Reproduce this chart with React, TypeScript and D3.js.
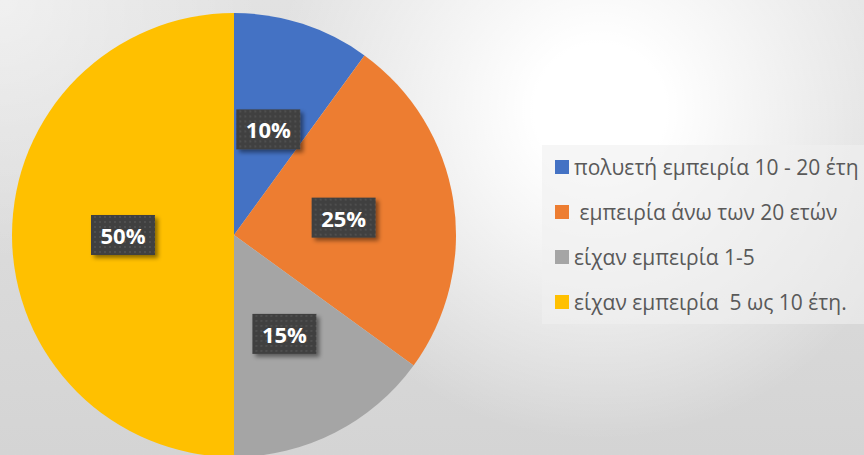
import * as d3 from "d3";

const labels = [
  "πολυετή εμπειρία 10 - 20 έτη",
  " εμπειρία άνω των 20 ετών",
  "είχαν εμπειρία 1-5",
  "είχαν εμπειρία  5 ως 10 έτη.",
];
const values = [10, 25, 15, 50];
const palette = ["#4472C4", "#ED7D31", "#A5A5A5", "#FFC000"];

const W = 864;
const H = 455;

const App = () => {
  const cx = 234;
  const cy = 235;
  const r = 222;

  const color = d3.scaleOrdinal<string, string>().domain(labels).range(palette);
  const total = d3.sum(values);
  const pie = d3
    .pie<number>()
    .sort(null)
    .value((d) => d);
  const arcs = pie(values);
  const arc = d3.arc<d3.PieArcDatum<number>>().innerRadius(0).outerRadius(r);

  // legend rows
  const legendY = d3
    .scalePoint<string>()
    .domain(labels)
    .range([167, 302]);

  const boxW = 64;
  const boxH = 40;

  return (
    <svg
      width={W}
      height={H}
      viewBox={`0 0 ${W} ${H}`}
      style={{ position: "absolute", left: 0, top: 0, display: "block" }}
    >
      <defs>
        <linearGradient id="bgBase" x1="0" y1="0" x2="0" y2="1">
          <stop offset="0" stopColor="#e2e2e2" />
          <stop offset="1" stopColor="#d4d4d4" />
        </linearGradient>
        <radialGradient
          id="bgGlow"
          gradientUnits="userSpaceOnUse"
          cx={600}
          cy={110}
          r={330}
        >
          <stop offset="0" stopColor="#ffffff" stopOpacity={1} />
          <stop offset="0.2" stopColor="#ffffff" stopOpacity={1} />
          <stop offset="1" stopColor="#ffffff" stopOpacity={0} />
        </radialGradient>
        <radialGradient
          id="bgCorner"
          gradientUnits="userSpaceOnUse"
          cx={0}
          cy={0}
          r={260}
        >
          <stop offset="0" stopColor="#ffffff" stopOpacity={0.5} />
          <stop offset="1" stopColor="#ffffff" stopOpacity={0} />
        </radialGradient>
        <pattern id="dots" width={5} height={5} patternUnits="userSpaceOnUse">
          <rect width={5} height={5} fill="#404040" />
          <rect x={1} y={1} width={2} height={2} fill="#4f4f4f" />
        </pattern>
        <filter id="shadow" x="-20%" y="-20%" width="150%" height="160%">
          <feDropShadow dx={3} dy={3} stdDeviation={2} floodColor="#000" floodOpacity={0.45} />
        </filter>
      </defs>

      <rect width={W} height={H} fill="url(#bgBase)" />
      <rect width={W} height={H} fill="url(#bgCorner)" />
      <rect width={W} height={H} fill="url(#bgGlow)" />

      <g transform={`translate(${cx},${cy})`}>
        {arcs.map((a, i) => (
          <path key={i} d={arc(a) ?? ""} fill={color(labels[i])} />
        ))}
        {arcs.map((a, i) => {
          const [x, y] = arc.centroid(a);
          return (
            <g key={"l" + i} transform={`translate(${x},${y})`}>
              <rect
                x={-boxW / 2}
                y={-boxH / 2}
                width={boxW}
                height={boxH}
                fill="url(#dots)"
                filter="url(#shadow)"
              />
              <text
                textAnchor="middle"
                dominantBaseline="central"
                fill="#ffffff"
                fontFamily="'Open Sans', sans-serif"
                fontWeight="bold"
                fontSize={22}
              >
                {d3.format(".0%")(values[i] / total)}
              </text>
            </g>
          );
        })}
      </g>

      <rect x={542} y={145} width={W - 542} height={179} fill="#f0f0f0" fillOpacity={0.6} />
      {labels.map((l) => (
        <g key={l} transform={`translate(555,${legendY(l)})`}>
          <rect x={0} y={-7} width={14} height={14} fill={color(l)} />
          <text
            x={19}
            dominantBaseline="central"
            fill="#595959"
            fontFamily="'Open Sans', sans-serif"
            fontSize={21}
            style={{ whiteSpace: "pre" }}
          >
            {l}
          </text>
        </g>
      ))}
    </svg>
  );
};

export default App;
